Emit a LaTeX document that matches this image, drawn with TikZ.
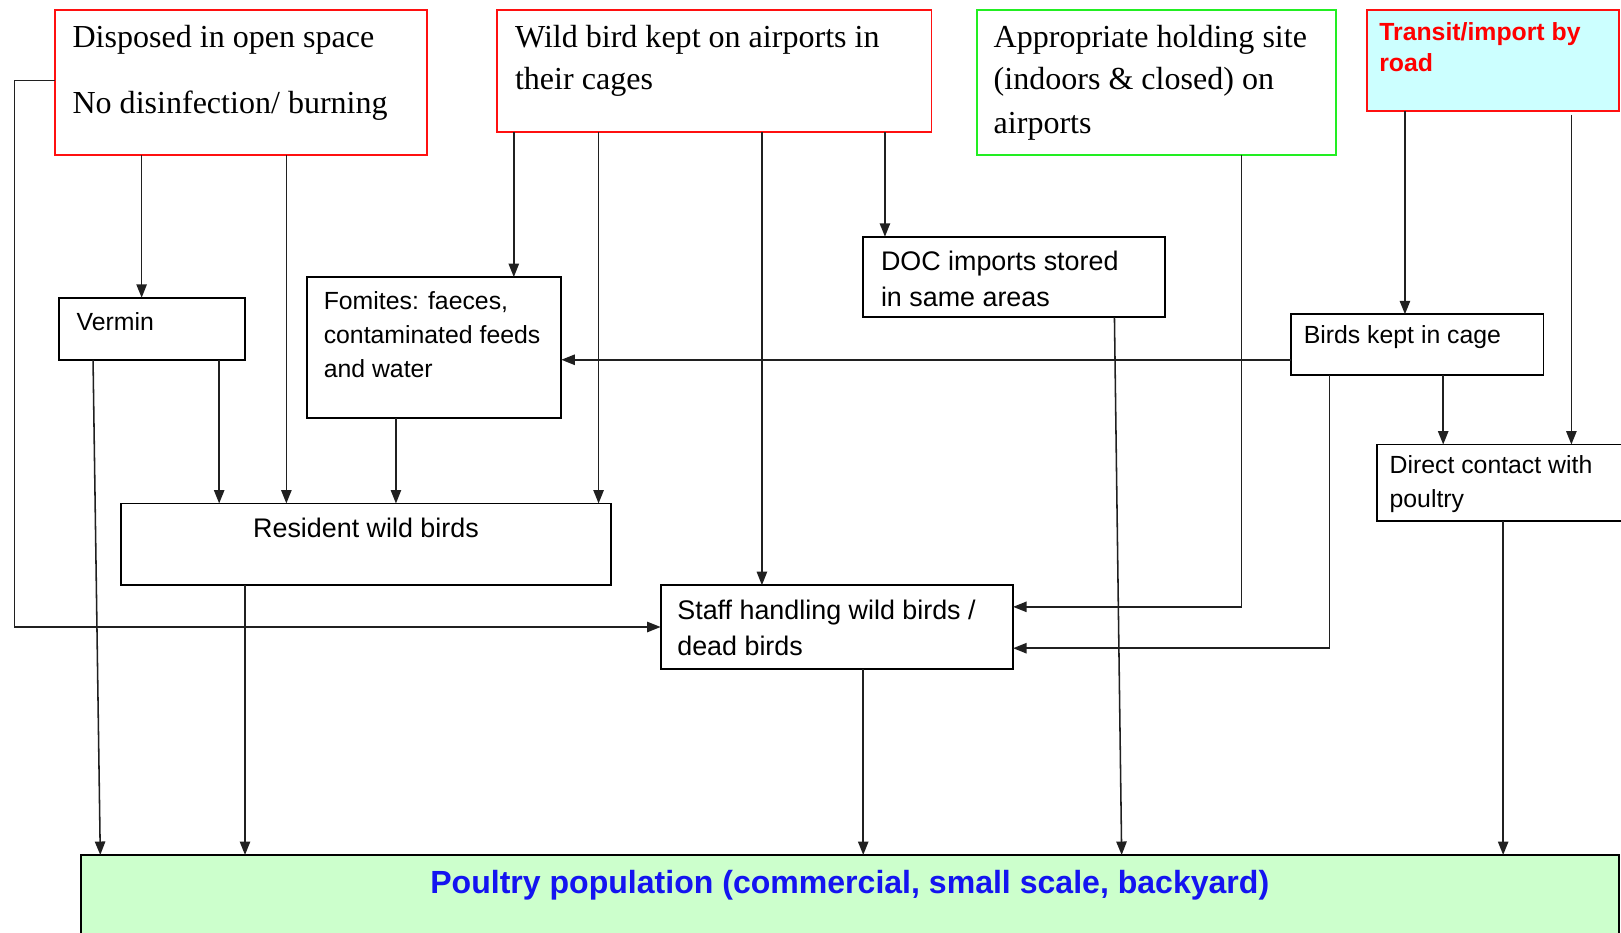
\documentclass[tikz,border=0pt]{standalone}
\usepackage{fontspec}
\setmainfont{Liberation Serif}
\newfontfamily\arialf{Liberation Sans}
\usetikzlibrary{arrows.meta}
\definecolor{cagefill}{HTML}{CCFFFF}
\definecolor{farmfill}{HTML}{CCFFCC}
\definecolor{linkgray}{HTML}{202020}
\definecolor{boxred}{HTML}{FF1010}
\definecolor{boxgreen}{HTML}{22EE22}
\definecolor{titleblue}{HTML}{1414F0}
\begin{document}
\begin{tikzpicture}[x=1pt,y=-1pt,
  box/.style={draw=black, line width=1.8pt, inner sep=0pt, outer sep=0pt},
  redbox/.style={box, draw=boxred},
  greenbox/.style={box, draw=boxgreen},
  serif/.style={font=\fontsize{31}{41}\selectfont, anchor=base west, inner sep=0pt},
  sans/.style={font=\arialf\fontsize{24}{33}\selectfont, anchor=base west, inner sep=0pt},
  sansl/.style={font=\arialf\fontsize{26}{34}\selectfont, anchor=base west, inner sep=0pt},
  arr/.style={draw=linkgray, line width=1.5pt, -{Triangle[length=13pt,width=10pt]}},
  link/.style={draw=linkgray, line width=1.5pt}]
\useasboundingbox (0,0) rectangle (1568,902);
\clip (0,0) rectangle (1568,902);

% ---- source boxes (top row)
\node[redbox, minimum width=360pt, minimum height=140pt] (disp) at (233,80) {};
\node[serif] (disp1) at (70,46) {Disposed in open space};
\node[serif] (disp2) at (70,110) {No disinfection/ burning};

\node[redbox, minimum width=420pt, minimum height=118pt] (wild) at (691,69) {};
\node[serif] (wild1) at (498,46) {Wild bird kept on airports in};
\node[serif] (wild2) at (498,87) {their cages};

\node[greenbox, minimum width=347pt, minimum height=140pt] (appr) at (1118.5,80) {};
\node[serif] (appr1) at (961,46) {Appropriate holding site};
\node[serif] (appr2) at (961,87) {(indoors \& closed) on};
\node[serif] (appr3) at (961,129) {airports};

\node[redbox, fill=cagefill, minimum width=244pt, minimum height=97pt] (trans) at (1444,58.5) {};
\node[sans, font=\arialf\bfseries\fontsize{24}{30}\selectfont, text=red] (trans1) at (1334,39) {Transit/import by};
\node[sans, font=\arialf\bfseries\fontsize{24}{30}\selectfont, text=red] (trans2) at (1334,69) {road};

% ---- intermediate boxes
\node[box, minimum width=180pt, minimum height=60pt] (verm) at (147,318) {};
\node[sans] (verm1) at (74,320) {Vermin};

\node[box, minimum width=246pt, minimum height=136pt] (fom) at (420,336) {};
\node[sans] (fom1) at (313,299) {Fomites: faeces,};
\node[sans] (fom2) at (313,332) {contaminated feeds};
\node[sans] (fom3) at (313,365) {and water};

\node[box, minimum width=292pt, minimum height=78pt] (doc) at (981,268) {};
\node[sansl] (doc1) at (852,262) {DOC imports stored};
\node[sansl] (doc2) at (852,296) {in same areas};

\node[box, minimum width=244pt, minimum height=59pt] (cage) at (1371,333.5) {};
\node[sans] (cage1) at (1261,332) {Birds kept in cage};

\node[box, minimum width=240pt, minimum height=74pt] (direct) at (1452,467) {};
\node[sans] (direct1) at (1344,458) {Direct contact with};
\node[sans] (direct2) at (1344,491) {poultry};

\node[box, minimum width=474pt, minimum height=79pt] (res) at (354,526.5) {};
\node[sansl, anchor=base] (res1) at (354,520) {Resident wild birds};

\node[box, minimum width=341pt, minimum height=81pt] (staff) at (809.5,606.5) {};
\node[sansl] (staff1) at (655,599) {Staff handling wild birds /};
\node[sansl] (staff2) at (655,634) {dead birds};

% ---- target population
\node[box, fill=farmfill, minimum width=1488pt, minimum height=90pt] (pou) at (822,872) {};
\node[font=\arialf\bfseries\fontsize{31}{36}\selectfont, text=titleblue, anchor=base, inner sep=0pt] (pou1) at (822,864) {Poultry population (commercial, small scale, backyard)};

% ---- connectors from the top row
\draw[arr] (137,0 |- disp.south) -- (137,0 |- verm.north);
\draw[arr] (277,0 |- disp.south) -- (277,0 |- res.north);
\draw[arr] (disp.west |- 0,78) -- (14,78) -- (14,0 |- staff.west) -- (staff.west);

\draw[arr] (497,0 |- wild.south) -- (497,0 |- fom.north);
\draw[arr] (579,0 |- wild.south) -- (579,0 |- res.north);
\draw[arr] (737,0 |- wild.south) -- (737,0 |- staff.north);
\draw[arr] (856,0 |- wild.south) -- (856,0 |- doc.north);

\draw[arr] (1201,0 |- appr.south) -- (1201,587) -- (staff.east |- 0,587);

\draw[arr] (1359,0 |- trans.south) -- (1359,0 |- cage.north);
\draw[arr, shorten <=4pt] (1520,0 |- trans.south) -- (1520,0 |- direct.north);

% ---- connectors between intermediate boxes
\draw[arr] (cage.west |- 0,348) -- (fom.east |- 0,348);
\draw[arr] (1286,0 |- cage.south) -- (1286,627) -- (staff.east |- 0,627);
\draw[arr] (1396,0 |- cage.south) -- (1396,0 |- direct.north);
\draw[arr] (212,0 |- verm.south) -- (212,0 |- res.north);
\draw[arr] (383,0 |- fom.south) -- (383,0 |- res.north);

% ---- connectors into the poultry population
\draw[arr] (90,0 |- verm.south) -- (97,0 |- pou.north);
\draw[arr] (1078,0 |- doc.south) -- (1085,0 |- pou.north);
\draw[arr] (237,0 |- res.south) -- (237,0 |- pou.north);
\draw[arr] (835,0 |- staff.south) -- (835,0 |- pou.north);
\draw[arr] (1454,0 |- direct.south) -- (1454,0 |- pou.north);
\end{tikzpicture}
\end{document}
